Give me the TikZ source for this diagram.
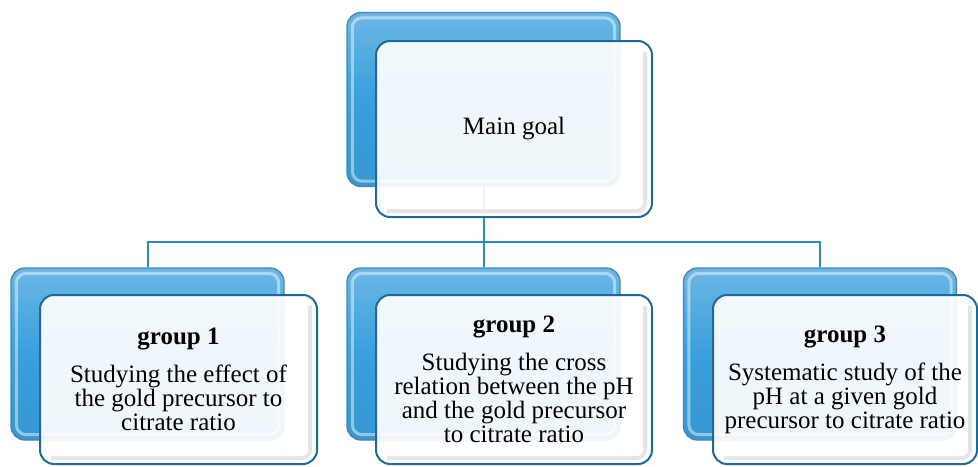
\documentclass[tikz,border=0pt]{standalone}
\usepackage{fontspec}
\setmainfont{Liberation Serif}
\usetikzlibrary{positioning}
\definecolor{boxblue}{HTML}{3A9FDC}
\definecolor{boxedge}{HTML}{1B6A98}
\definecolor{linkblue}{HTML}{2A8BC7}

\begin{document}
\begin{tikzpicture}[x=0.5pt, y=-0.5pt,
        backbox/.style={rectangle, rounded corners=7pt, draw=boxedge!80, line width=0.7pt,
            top color=boxblue!75!white, bottom color=boxblue!95!black, middle color=boxblue,
            minimum width=136.5pt, minimum height=86pt},
        frontbox/.style={rectangle, rounded corners=7pt, draw=boxedge, line width=1pt,
            fill=white, fill opacity=0.92, text opacity=1, minimum height=84.5pt,
            align=center, font=\fontsize{12.5}{12}\selectfont},
        link/.style={draw=linkblue, line width=1pt}]
        \useasboundingbox (0,0) rectangle (978,466);

        % blue boxes behind
        \node[backbox, minimum height=87pt] (mainb) at (483.5, 99.5) {};
        \node[backbox] (g1b) at (147.5, 354) {};
        \node[backbox] (g2b) at (483.5, 354) {};
        \node[backbox] (g3b) at (820, 354) {};
        \foreach \b in {mainb, g1b, g2b, g3b}
            \draw[white, opacity=.45, line width=1.5pt, rounded corners=5pt]
                ([shift={(6,6)}]\b.north west) rectangle ([shift={(-6,-6)}]\b.south east);

        % tree lines
        \coordinate (bus) at (483.5, 242);
        \draw[link] (mainb.south) -- (bus)
            (g1b.north) |- (bus) -| (g3b.north)
            (bus) -- (g2b.north);

        % white boxes in front
        \node[frontbox, minimum width=138pt, minimum height=88pt] (main) at (514, 129) {Main goal};
        \node[frontbox, minimum width=138.5pt] (g1) at (178.5, 379.5)
            {\textbf{group 1}\\[7pt] Studying the effect of\\ the gold precursor to\\ citrate ratio};
        \node[frontbox, minimum width=138pt] (g2) at (514, 379.5)
            {\textbf{group 2}\\[7pt] Studying the cross\\ relation between the pH\\ and the gold precursor\\ to citrate ratio};
        \node[frontbox, minimum width=132pt] (g3) at (845, 379.5)
            {\textbf{group 3}\\[7pt] Systematic study of the\\ pH at a given gold\\ precursor to citrate ratio};
        \foreach \f in {main, g1, g2, g3}
            \draw[black!10, line width=2pt, rounded corners=4pt]
                ([shift={(-8,12)}]\f.north east) -- ([shift={(-8,-7)}]\f.south east)
                -- ([shift={(12,-7)}]\f.south west);
    \end{tikzpicture}
\end{document}
